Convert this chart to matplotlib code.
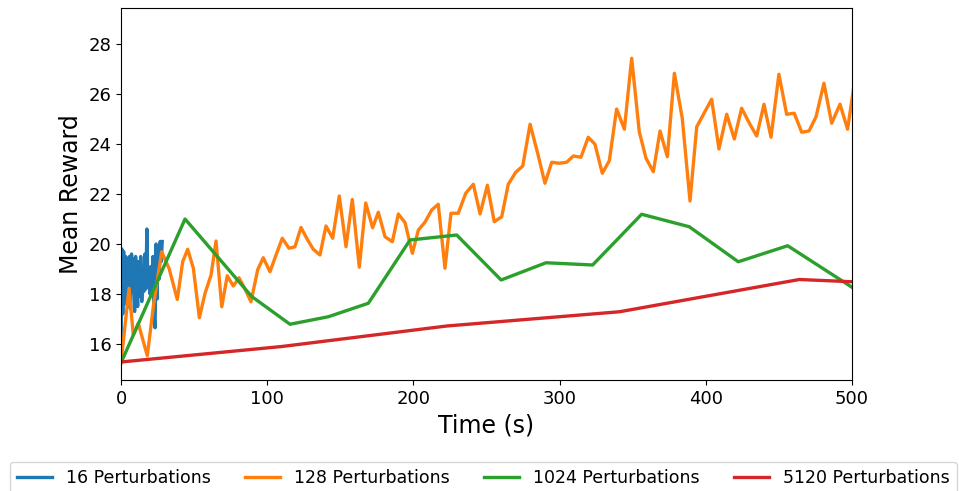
import matplotlib
matplotlib.use("Agg")
import matplotlib.pyplot as plt

# 16 perturbations (short, noisy run)
t16 = [0, 0.6, 1.2, 1.8, 2.5, 3.2, 3.9, 4.5, 5.1, 5.8, 6.5, 7.2, 7.9, 8.6, 9.3,
       10.0, 10.7, 11.4, 12.1, 12.8, 13.5, 14.2, 14.9, 15.6, 16.3, 17.0, 17.7,
       18.4, 19.1, 19.8, 20.5, 21.2, 21.9, 22.6, 23.3, 24.0, 24.7, 25.4, 26.1,
       26.8, 27.5, 28.2]
r16 = [15.3, 19.8, 17.2, 19.7, 17.6, 19.5, 17.8, 19.2, 17.5, 19.5, 17.4, 19.6,
       18.1, 19.4, 17.3, 19.5, 18.3, 17.5, 19.3, 17.9, 19.5, 17.7, 18.8, 18.1,
       19.6, 18.2, 20.6, 18.3, 18.9, 18.0, 19.1, 18.6, 19.5, 17.1, 16.65, 20.0,
       17.8, 19.9, 18.6, 20.1, 19.3, 20.1]

# 128 perturbations
t128 = [0, 5.5, 8.4, 11.8, 18.0, 22.1, 27.8, 33.0, 38.5, 42.2, 45.6, 49.5, 53.6,
        57.5, 61.6, 65.0, 68.9, 72.7, 76.8, 80.7, 84.8, 88.9, 93.5, 97.3, 101.9,
        106.0, 110.3, 114.9, 119.0, 123.1, 127.3, 131.5, 136.1, 140.2, 144.8,
        149.3, 153.9, 158.2, 163.0, 167.4, 172.1, 176.0, 180.6, 185.6, 189.7,
        194.3, 199.3, 203.4, 207.9, 212.5, 217.0, 221.6, 225.7, 230.7, 235.8,
        241.0, 245.6, 250.6, 255.3, 260.4, 264.9, 270.0, 274.8, 279.8, 285.0,
        290.0, 294.6, 299.8, 304.8, 309.4, 314.6, 319.6, 324.2, 329.2, 334.0,
        339.0, 344.3, 349.3, 354.5, 359.1, 364.1, 368.7, 373.7, 378.5, 383.9,
        389.2, 393.8, 398.8, 404.0, 409.0, 414.3, 419.5, 424.5, 430.2, 434.8,
        439.8, 444.6, 450.0, 455.3, 460.5, 465.6, 470.6, 475.4, 480.8, 486.1,
        491.8, 497.0, 502.0]
r128 = [15.25, 18.23, 16.36, 16.83, 15.53, 17.49, 19.69, 19.0, 17.78, 19.29,
        19.79, 19.03, 17.05, 18.03, 18.76, 20.12, 17.49, 18.73, 18.32, 18.65,
        18.2, 17.69, 18.97, 19.45, 18.89, 19.55, 20.23, 19.83, 19.89, 20.66,
        20.2, 19.79, 19.56, 20.72, 20.23, 21.92, 19.89, 21.78, 19.07, 21.64,
        20.65, 21.27, 20.29, 20.09, 21.2, 20.85, 19.63, 20.56, 20.87, 21.36,
        21.59, 19.03, 21.23, 21.23, 22.03, 22.39, 21.2, 22.35, 20.89, 21.09,
        22.39, 22.87, 23.12, 24.79, 23.63, 22.43, 23.27, 23.23, 23.27, 23.52,
        23.47, 24.27, 23.99, 22.83, 23.33, 25.4, 24.59, 27.43, 24.49, 23.43,
        22.89, 24.52, 23.49, 26.83, 25.03, 21.72, 24.69, 25.23, 25.79, 23.8,
        25.19, 24.2, 25.43, 24.79, 24.32, 25.59, 24.27, 26.79, 25.19, 25.23,
        24.47, 24.52, 25.09, 26.43, 24.83, 25.59, 24.59, 26.6]

# 1024 perturbations
t1024 = [0, 43.8, 89.4, 115.6, 141.8, 169.2, 197.7, 229.6, 260.0, 290.7, 322.6,
         356.1, 388.7, 422.2, 456.0, 500.0]
r1024 = [15.25, 21.0, 17.9, 16.79, 17.09, 17.63, 20.16, 20.36, 18.56, 19.25,
         19.16, 21.19, 20.69, 19.29, 19.93, 18.27]

# 5120 perturbations
t5120 = [0, 110.0, 222.8, 341.0, 464.0, 500.0]
r5120 = [15.28, 15.9, 16.72, 17.29, 18.58, 18.49]

series = [
    (t16, r16, "16 Perturbations", "#1f77b4"),
    (t128, r128, "128 Perturbations", "#ff7f0e"),
    (t1024, r1024, "1024 Perturbations", "#2ca02c"),
    (t5120, r5120, "5120 Perturbations", "#d62728"),
]

fig = plt.figure(figsize=(9.59, 4.91), dpi=100)
ax = fig.add_axes([121 / 959, 1 - 380 / 491, (852 - 121) / 959, (380 - 8) / 491])

for t, r, label, color in series:
    ax.plot(t, r, color=color, linewidth=2.4, label=label)

ax.set_xlim(0, 500)
ax.set_ylim(14.56, 29.44)
ax.set_xticks([0, 100, 200, 300, 400, 500])
ax.set_yticks([16, 18, 20, 22, 24, 26, 28])
ax.tick_params(labelsize=13)
ax.set_xlabel("Time (s)", fontsize=17)
ax.set_ylabel("Mean Reward", fontsize=17)

handles, labels = ax.get_legend_handles_labels()
fig.legend(handles, labels, loc="upper left", bbox_to_anchor=(10 / 959, 1 - 462 / 491),
           ncol=4, fontsize=12.5, frameon=True, borderaxespad=0)

fig.savefig("out.png", dpi=100)
